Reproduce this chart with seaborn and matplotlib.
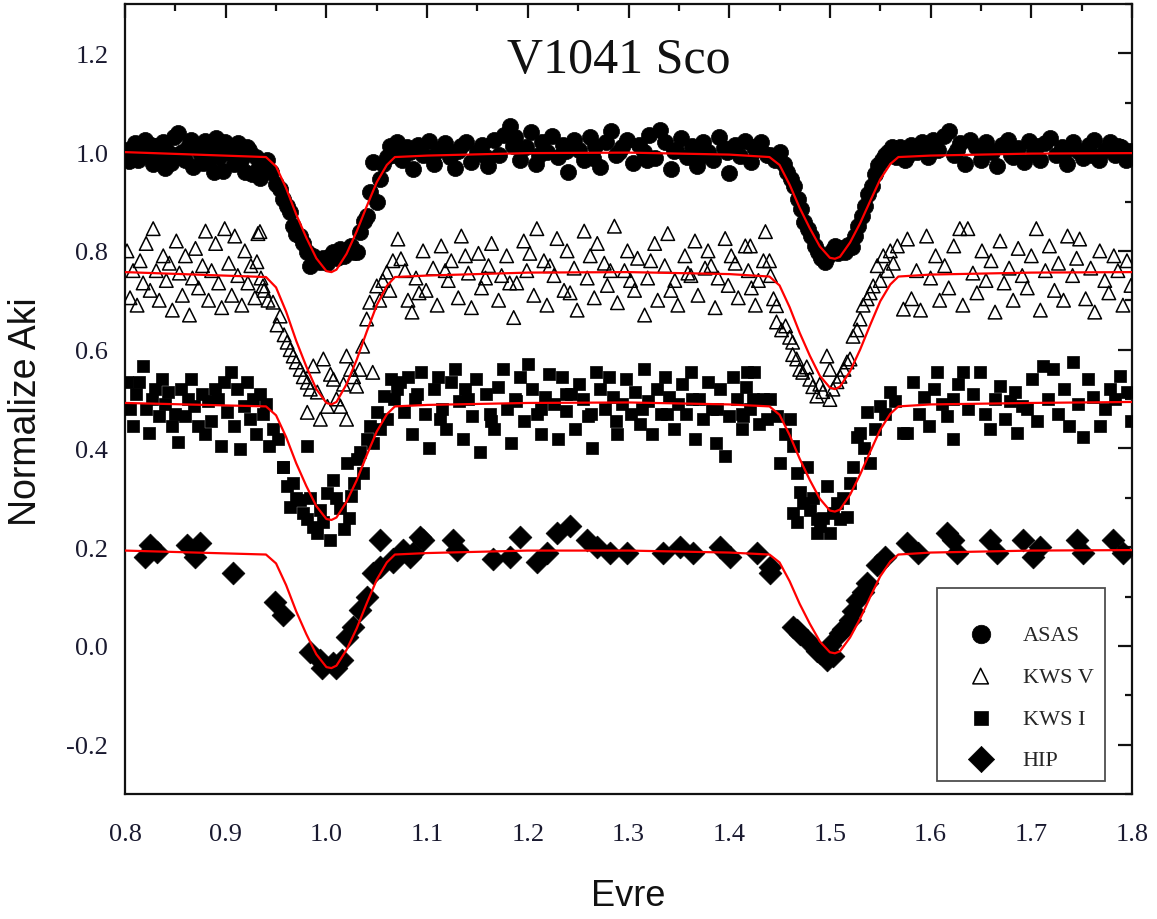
import matplotlib
matplotlib.use("Agg")
import matplotlib.pyplot as plt
from matplotlib.ticker import MultipleLocator, FormatStrFormatter
import seaborn as sns
import pandas as pd

# ---------------- data ----------------
asas_phase = [
    0.802, 0.806, 0.810, 0.813, 0.817, 0.820, 0.824, 0.828, 0.831, 0.835,
    0.838, 0.842, 0.846, 0.849, 0.853, 0.857, 0.860, 0.864, 0.868, 0.871,
    0.875, 0.879, 0.882, 0.886, 0.890, 0.893, 0.897, 0.901, 0.904, 0.908,
    0.912, 0.915, 0.919, 0.923, 0.926, 0.930, 0.934, 0.937,
    0.804, 0.815, 0.826, 0.840, 0.851, 0.866, 0.877, 0.888, 0.899, 0.910, 0.921, 0.932,
    0.941, 0.945, 0.950, 0.954, 0.957, 0.961, 0.964, 0.967, 0.970, 0.974,
    0.977, 0.981, 0.984, 0.987, 0.991, 0.994, 0.997, 1.001, 1.004, 1.007,
    1.011, 1.014, 1.017, 1.020, 1.024, 1.027, 1.030, 1.033, 1.037, 1.040,
    1.043, 1.046, 1.050, 1.053, 1.056, 1.060, 1.063, 1.067,
    1.070, 1.075, 1.080, 1.086, 1.091, 1.096, 1.102, 1.107, 1.112, 1.118,
    1.123, 1.128, 1.134, 1.139, 1.144, 1.150, 1.155, 1.160, 1.166, 1.171,
    1.176, 1.182, 1.187, 1.192, 1.198, 1.203, 1.208, 1.214, 1.219, 1.224,
    1.230, 1.235, 1.240, 1.246, 1.251, 1.256, 1.262, 1.267, 1.272, 1.278,
    1.283, 1.288, 1.294, 1.299, 1.304, 1.310, 1.315, 1.320, 1.326, 1.331,
    1.336, 1.342, 1.347, 1.352, 1.358, 1.363, 1.368, 1.374, 1.379, 1.384,
    1.390, 1.395, 1.400, 1.406, 1.411, 1.416, 1.422, 1.427, 1.432, 1.438,
    1.083, 1.105, 1.131, 1.158, 1.185, 1.211, 1.238, 1.265, 1.291, 1.318, 1.345, 1.371, 1.398, 1.425,
    1.441, 1.445, 1.450, 1.454, 1.457, 1.461, 1.464, 1.468, 1.471, 1.474,
    1.478, 1.481, 1.485, 1.488, 1.491, 1.495, 1.498, 1.502, 1.505, 1.508,
    1.512, 1.515, 1.518, 1.522, 1.525, 1.528, 1.532, 1.535, 1.538, 1.542,
    1.545, 1.548, 1.552, 1.555, 1.558, 1.562, 1.566,
    1.570, 1.575, 1.581, 1.586, 1.591, 1.597, 1.602, 1.607, 1.613, 1.618,
    1.623, 1.629, 1.634, 1.639, 1.645, 1.650, 1.655, 1.661, 1.666, 1.671,
    1.677, 1.682, 1.687, 1.693, 1.698, 1.703, 1.709, 1.714, 1.719, 1.725,
    1.730, 1.735, 1.741, 1.746, 1.751, 1.757, 1.762, 1.767, 1.773, 1.778,
    1.783, 1.789, 1.794, 1.798,
    1.578, 1.600, 1.626, 1.653, 1.680, 1.706, 1.733, 1.760, 1.786,
]
asas_flux = [
    1.005, 0.992, 1.018, 0.985, 1.010, 1.024, 0.998, 0.975, 1.012, 0.990,
    1.020, 1.003, 0.978, 1.030, 1.038, 1.000, 0.985, 1.015, 0.970, 1.008,
    0.995, 1.022, 0.983, 1.005, 1.028, 0.990, 0.962, 1.012, 0.998, 0.975,
    1.018, 0.985, 0.960, 1.005, 0.955, 0.990, 0.948, 0.975,
    0.982, 1.000, 1.015, 0.968, 0.995, 1.025, 0.978, 0.960, 1.020, 0.992, 1.010, 0.965,
    0.985, 0.960, 0.935, 0.925, 0.906, 0.890, 0.879, 0.851, 0.835, 0.830,
    0.815, 0.798, 0.770, 0.790, 0.780, 0.778, 0.785, 0.775, 0.790, 0.798,
    0.785, 0.804, 0.790, 0.798, 0.810, 0.798, 0.798, 0.839, 0.860, 0.871,
    0.920, 0.981, 0.899, 0.946, 0.975, 0.990, 1.013, 0.995,
    1.020, 0.985, 1.010, 0.965, 1.015, 0.995, 1.022, 0.975, 1.005, 1.018,
    0.990, 0.968, 1.012, 1.020, 0.980, 1.000, 1.015, 0.972, 1.025, 0.995,
    1.035, 1.052, 1.030, 0.985, 1.010, 1.040, 0.975, 1.020, 1.000, 1.032,
    0.990, 1.015, 0.960, 1.025, 1.005, 0.985, 1.030, 1.012, 0.970, 1.020,
    1.042, 0.995, 1.010, 1.025, 0.978, 1.015, 1.000, 1.035, 0.988, 1.044,
    1.020, 0.965, 1.005, 1.028, 0.990, 1.012, 0.972, 1.020, 1.000, 0.985,
    1.030, 1.008, 0.958, 1.015, 0.992, 1.022, 0.980, 1.005, 1.020, 0.995,
    1.000, 0.990, 1.002, 0.990, 1.012, 0.995, 1.002, 0.988, 1.000, 0.985, 1.002, 0.990, 1.000, 1.010,
    0.995, 0.985, 1.001, 0.975, 0.960, 0.945, 0.932, 0.905, 0.885, 0.859,
    0.845, 0.830, 0.810, 0.798, 0.785, 0.778, 0.790, 0.800, 0.810, 0.795,
    0.805, 0.798, 0.812, 0.808, 0.830, 0.851, 0.870, 0.891, 0.915, 0.932,
    0.955, 0.973, 0.985, 0.995, 1.001, 1.010, 0.990,
    1.010, 0.985, 1.015, 1.000, 1.021, 0.990, 1.025, 1.005, 1.033, 1.042,
    0.995, 1.018, 0.975, 1.025, 1.010, 0.985, 1.020, 1.000, 0.972, 1.015,
    1.025, 0.990, 1.008, 0.980, 1.022, 1.000, 0.985, 1.018, 1.028, 0.995,
    1.010, 0.975, 1.020, 1.002, 0.988, 1.015, 1.025, 0.985, 1.005, 1.020,
    0.995, 1.010, 0.985, 1.002,
    0.995, 1.012, 1.005, 1.000, 0.995, 1.012, 1.002, 0.995, 1.012,
]

kwsv_phase = [
    0.802, 0.805, 0.808, 0.812, 0.815, 0.818, 0.821, 0.825, 0.828, 0.831,
    0.834, 0.838, 0.841, 0.844, 0.847, 0.851, 0.854, 0.857, 0.860, 0.864,
    0.867, 0.870, 0.873, 0.877, 0.880, 0.883, 0.886, 0.890, 0.893, 0.896,
    0.899, 0.903, 0.906, 0.909, 0.912, 0.916, 0.919, 0.922, 0.925, 0.929,
    0.932, 0.935, 0.938,
    0.934, 0.931, 0.937, 0.942, 0.947, 0.951, 0.954, 0.958, 0.961, 0.964,
    0.967, 0.970, 0.974, 0.977, 0.981, 0.981, 0.984, 0.987, 0.991, 0.994,
    0.997, 1.001, 1.004, 1.007, 1.010, 1.014, 1.017, 1.020, 1.020, 1.024,
    1.027, 1.030, 1.033, 1.036, 1.040, 1.043, 1.046, 1.050, 1.053, 1.056,
    1.060, 1.063, 1.066,
    1.071, 1.074, 1.081, 1.085, 1.089, 1.096, 1.099, 1.106, 1.110, 1.114,
    1.121, 1.124, 1.131, 1.134, 1.141, 1.144, 1.151, 1.154, 1.161, 1.164,
    1.171, 1.174, 1.179, 1.186, 1.189, 1.196, 1.199, 1.206, 1.209, 1.216,
    1.219, 1.226, 1.229, 1.236, 1.239, 1.246, 1.249, 1.256, 1.259, 1.266,
    1.269, 1.276, 1.279, 1.286, 1.289, 1.296, 1.299, 1.306, 1.309, 1.316,
    1.319, 1.326, 1.329, 1.336, 1.339, 1.346, 1.349, 1.356, 1.359, 1.366,
    1.369, 1.376, 1.379, 1.386, 1.389, 1.396, 1.399, 1.406, 1.409, 1.416,
    1.419, 1.426, 1.429, 1.436, 1.440,
    1.078, 1.092, 1.118, 1.138, 1.158, 1.182, 1.202, 1.222, 1.242, 1.262,
    1.282, 1.302, 1.322, 1.342, 1.362, 1.382, 1.402, 1.422,
    1.421, 1.434, 1.441, 1.444, 1.447, 1.447, 1.452, 1.456, 1.460, 1.463,
    1.463, 1.467, 1.470, 1.473, 1.477, 1.480, 1.483, 1.487, 1.490, 1.493,
    1.497, 1.500, 1.500, 1.503, 1.507, 1.510, 1.514, 1.517, 1.520, 1.523,
    1.527, 1.530, 1.533, 1.537, 1.540, 1.543, 1.547, 1.550, 1.553, 1.557,
    1.560, 1.563, 1.567, 1.573,
    1.577, 1.581, 1.586, 1.590, 1.596, 1.600, 1.605, 1.609, 1.614, 1.618,
    1.623, 1.629, 1.632, 1.637, 1.642, 1.646, 1.651, 1.655, 1.660, 1.664,
    1.669, 1.673, 1.678, 1.682, 1.687, 1.691, 1.696, 1.700, 1.705, 1.709,
    1.714, 1.718, 1.723, 1.727, 1.732, 1.736, 1.741, 1.745, 1.748, 1.754,
    1.759, 1.763, 1.768, 1.773, 1.777, 1.782, 1.786, 1.791, 1.795, 1.799,
]
kwsv_flux = [
    0.800, 0.705, 0.760, 0.690, 0.780, 0.735, 0.815, 0.720, 0.845, 0.760,
    0.700, 0.790, 0.740, 0.775, 0.680, 0.820, 0.755, 0.710, 0.790, 0.670,
    0.745, 0.805, 0.725, 0.770, 0.840, 0.700, 0.760, 0.815, 0.735, 0.685,
    0.845, 0.775, 0.710, 0.830, 0.750, 0.690, 0.800, 0.735, 0.770, 0.705,
    0.835, 0.745, 0.720,
    0.839, 0.778, 0.729, 0.700, 0.696, 0.650, 0.668, 0.630, 0.615, 0.600,
    0.587, 0.575, 0.560, 0.545, 0.534, 0.473, 0.520, 0.567, 0.514, 0.459,
    0.581, 0.485, 0.550, 0.540, 0.500, 0.485, 0.530, 0.587, 0.459, 0.560,
    0.545, 0.526, 0.560, 0.607, 0.662, 0.696, 0.554, 0.729, 0.700, 0.740,
    0.757, 0.720, 0.780,
    0.824, 0.784, 0.700, 0.676, 0.745, 0.800, 0.720, 0.765, 0.690, 0.810,
    0.740, 0.780, 0.705, 0.830, 0.755, 0.685, 0.795, 0.725, 0.770, 0.815,
    0.700, 0.750, 0.790, 0.665, 0.735, 0.820, 0.760, 0.710, 0.845, 0.780,
    0.690, 0.750, 0.825, 0.720, 0.800, 0.765, 0.680, 0.840, 0.745, 0.705,
    0.815, 0.775, 0.730, 0.850, 0.695, 0.760, 0.800, 0.720, 0.785, 0.670,
    0.745, 0.815, 0.700, 0.770, 0.835, 0.740, 0.690, 0.790, 0.755, 0.820,
    0.710, 0.765, 0.800, 0.685, 0.745, 0.825, 0.730, 0.775, 0.705, 0.810,
    0.760, 0.690, 0.740, 0.839, 0.780,
    0.760, 0.715, 0.760, 0.790, 0.745, 0.735, 0.795, 0.770, 0.715, 0.790,
    0.760, 0.740, 0.780, 0.720, 0.750, 0.770, 0.790, 0.725,
    0.810, 0.780, 0.750, 0.703, 0.689, 0.656, 0.640, 0.648, 0.625, 0.615,
    0.590, 0.581, 0.560, 0.554, 0.565, 0.540, 0.525, 0.506, 0.530, 0.515,
    0.587, 0.499, 0.560, 0.520, 0.535, 0.546, 0.560, 0.575, 0.581, 0.627,
    0.640, 0.662, 0.690, 0.703, 0.715, 0.729, 0.770, 0.740, 0.790, 0.760,
    0.800, 0.775, 0.810, 0.682,
    0.824, 0.703, 0.760, 0.680, 0.830, 0.745, 0.790, 0.700, 0.770, 0.725,
    0.810, 0.845, 0.690, 0.845, 0.755, 0.715, 0.800, 0.740, 0.780, 0.676,
    0.820, 0.735, 0.765, 0.700, 0.805, 0.750, 0.725, 0.790, 0.845, 0.680,
    0.760, 0.810, 0.720, 0.775, 0.700, 0.830, 0.750, 0.785, 0.824, 0.703,
    0.765, 0.676, 0.800, 0.740, 0.715, 0.790, 0.760, 0.690, 0.780, 0.730,
]

kwsi_phase = [
    0.802, 0.805, 0.808, 0.811, 0.814, 0.818, 0.821, 0.824, 0.827, 0.830,
    0.834, 0.837, 0.840, 0.843, 0.847, 0.850, 0.853, 0.856, 0.860, 0.863,
    0.866, 0.869, 0.872, 0.876, 0.879, 0.882, 0.885, 0.889, 0.892, 0.895,
    0.898, 0.901, 0.905, 0.908, 0.911, 0.914, 0.918, 0.921, 0.924, 0.927,
    0.930, 0.934, 0.937, 0.940, 0.943,
    0.947, 0.952, 0.957, 0.961, 0.964, 0.967, 0.970, 0.974, 0.977, 0.981,
    0.984, 0.987, 0.991, 0.994, 0.997, 1.001, 1.004, 1.007, 1.010, 1.014,
    1.017, 1.020, 1.022, 1.024, 1.027, 1.030, 1.033, 1.036, 1.040, 1.043,
    1.046, 1.050, 1.053, 1.057, 1.060, 1.064, 1.067, 1.070,
    0.981, 0.957,
    1.073, 1.077, 1.081, 1.085, 1.090, 1.094, 1.098, 1.102, 1.107, 1.111,
    1.115, 1.119, 1.124, 1.128, 1.132, 1.136, 1.141, 1.145, 1.149, 1.153,
    1.158, 1.162, 1.166, 1.170, 1.175, 1.179, 1.183, 1.187, 1.192, 1.196,
    1.200, 1.204, 1.209, 1.213, 1.217, 1.221, 1.226, 1.230, 1.234, 1.238,
    1.243, 1.247, 1.251, 1.255, 1.260, 1.264, 1.268, 1.272, 1.277, 1.281,
    1.285, 1.289, 1.294, 1.298, 1.302, 1.306, 1.311, 1.315, 1.319, 1.323,
    1.328, 1.332, 1.336, 1.340, 1.345, 1.349, 1.353, 1.357, 1.362, 1.366,
    1.370, 1.374, 1.379, 1.383, 1.387, 1.391, 1.396, 1.400, 1.404, 1.408,
    1.413, 1.417, 1.421, 1.425, 1.430, 1.434, 1.438,
    1.088, 1.113, 1.138, 1.163, 1.188, 1.213, 1.238, 1.263, 1.288, 1.313,
    1.338, 1.363, 1.388, 1.413,
    1.414, 1.418, 1.424, 1.441, 1.447, 1.450, 1.455, 1.460, 1.463, 1.463,
    1.467, 1.467, 1.470, 1.473, 1.477, 1.480, 1.483, 1.487, 1.487, 1.490,
    1.493, 1.497, 1.500, 1.503, 1.507, 1.510, 1.513, 1.517, 1.520, 1.523,
    1.527, 1.530, 1.534, 1.537, 1.540, 1.545, 1.550, 1.555, 1.560, 1.565,
    1.573,
    1.577, 1.583, 1.588, 1.593, 1.598, 1.603, 1.606, 1.611, 1.616, 1.622,
    1.622, 1.627, 1.632, 1.637, 1.642, 1.649, 1.654, 1.659, 1.664, 1.669,
    1.674, 1.679, 1.684, 1.686, 1.691, 1.696, 1.701, 1.706, 1.712, 1.717,
    1.722, 1.727, 1.732, 1.737, 1.741, 1.746, 1.751, 1.756, 1.761, 1.768,
    1.773, 1.778, 1.783, 1.788, 1.795, 1.799,
]
kwsi_flux = [
    0.534, 0.479, 0.445, 0.510, 0.534, 0.567, 0.479, 0.432, 0.500, 0.520,
    0.465, 0.540, 0.490, 0.514, 0.445, 0.470, 0.412, 0.520, 0.465, 0.500,
    0.540, 0.485, 0.445, 0.510, 0.430, 0.495, 0.455, 0.520, 0.499, 0.405,
    0.534, 0.474, 0.554, 0.445, 0.520, 0.398, 0.485, 0.534, 0.460, 0.500,
    0.430, 0.510, 0.470, 0.490, 0.404,
    0.440, 0.420, 0.363, 0.323, 0.282, 0.330, 0.300, 0.296, 0.270, 0.256,
    0.300, 0.240, 0.229, 0.275, 0.250, 0.310, 0.215, 0.335, 0.300, 0.280,
    0.236, 0.371, 0.260, 0.303, 0.330, 0.378, 0.392, 0.351, 0.420, 0.445,
    0.410, 0.473, 0.440, 0.506, 0.460, 0.540, 0.500, 0.520,
    0.404, 0.363,
    0.534, 0.473, 0.545, 0.430, 0.510, 0.554, 0.470, 0.400, 0.520, 0.545,
    0.480, 0.440, 0.535, 0.560, 0.495, 0.420, 0.500, 0.465, 0.540, 0.392,
    0.510, 0.470, 0.440, 0.525, 0.560, 0.480, 0.410, 0.500, 0.545, 0.455,
    0.570, 0.520, 0.470, 0.430, 0.505, 0.550, 0.490, 0.420, 0.545, 0.475,
    0.510, 0.440, 0.530, 0.500, 0.465, 0.400, 0.555, 0.520, 0.480, 0.545,
    0.505, 0.430, 0.490, 0.540, 0.470, 0.515, 0.450, 0.560, 0.495, 0.430,
    0.520, 0.470, 0.545, 0.505, 0.440, 0.490, 0.530, 0.470, 0.555, 0.420,
    0.500, 0.460, 0.535, 0.480, 0.410, 0.520, 0.385, 0.465, 0.545, 0.500,
    0.440, 0.525, 0.480, 0.555, 0.450, 0.500, 0.460,
    0.500, 0.460, 0.520, 0.455, 0.495, 0.480, 0.510, 0.470, 0.455, 0.480,
    0.470, 0.500, 0.480, 0.470,
    0.465, 0.554, 0.499, 0.499, 0.465, 0.371, 0.430, 0.459, 0.404, 0.270,
    0.351, 0.250, 0.311, 0.290, 0.363, 0.275, 0.300, 0.256, 0.229, 0.242,
    0.260, 0.323, 0.229, 0.270, 0.290, 0.256, 0.300, 0.262, 0.330, 0.363,
    0.424, 0.432, 0.400, 0.473, 0.371, 0.440, 0.485, 0.470, 0.514, 0.495,
    0.432,
    0.432, 0.534, 0.470, 0.505, 0.445, 0.520, 0.554, 0.490, 0.465, 0.499,
    0.418, 0.530, 0.554, 0.480, 0.510, 0.554, 0.470, 0.440, 0.500, 0.526,
    0.460, 0.495, 0.515, 0.432, 0.485, 0.479, 0.540, 0.455, 0.567, 0.500,
    0.560, 0.470, 0.520, 0.445, 0.574, 0.490, 0.424, 0.540, 0.505, 0.445,
    0.480, 0.520, 0.500, 0.546, 0.514, 0.455,
]

hip_phase = [
    0.820, 0.825, 0.832, 0.862, 0.870, 0.874, 0.907, 0.949, 0.957, 0.984,
    0.994, 0.996, 1.007, 1.010, 1.015, 1.020, 1.026, 1.033, 1.040, 1.046,
    1.053, 1.053, 1.066, 1.066, 1.076, 1.083, 1.086, 1.093, 1.096, 1.126,
    1.130, 1.165, 1.182, 1.192, 1.209, 1.219, 1.229, 1.242, 1.259, 1.269,
    1.282, 1.299, 1.334, 1.351, 1.364, 1.391, 1.401, 1.428, 1.441, 1.441,
    1.463, 1.467, 1.477, 1.490, 1.497, 1.500, 1.510, 1.520, 1.527, 1.537,
    1.547, 1.555, 1.577, 1.587, 1.616, 1.622, 1.626, 1.659, 1.666, 1.692,
    1.702, 1.709, 1.745, 1.751, 1.781, 1.791,
    1.487, 1.503, 1.470, 1.513, 1.523, 1.533,
]
hip_flux = [
    0.179, 0.205, 0.191, 0.205, 0.181, 0.209, 0.148, 0.089, 0.063, -0.012,
    -0.028, -0.045, -0.035, -0.045, -0.028, 0.018, 0.039, 0.073, 0.099, 0.148,
    0.160, 0.215, 0.175, 0.169, 0.195, 0.181, 0.189, 0.221, 0.215, 0.215,
    0.195, 0.175, 0.181, 0.221, 0.169, 0.189, 0.229, 0.242, 0.215, 0.201,
    0.189, 0.189, 0.189, 0.201, 0.189, 0.201, 0.181, 0.189, 0.160, 0.148,
    0.039, 0.032, 0.012, -0.014, -0.028, 0.002, 0.026, 0.053, 0.093, 0.128,
    0.164, 0.181, 0.209, 0.189, 0.229, 0.215, 0.189, 0.215, 0.189, 0.215,
    0.181, 0.201, 0.215, 0.189, 0.215, 0.189,
    -0.010, -0.020, 0.025, 0.035, 0.070, 0.110,
]

# model (red) curves, read at these phases
fit_phase = [0.80, 0.94, 0.95, 0.96, 0.97, 0.98, 0.99, 1.00, 1.005, 1.01,
             1.02, 1.03, 1.04, 1.05, 1.06, 1.068, 1.10, 1.20, 1.30, 1.40,
             1.44, 1.45, 1.46, 1.47, 1.48, 1.49, 1.50, 1.505, 1.51, 1.52,
             1.53, 1.54, 1.55, 1.56, 1.568, 1.60, 1.70, 1.80]
fit_asas = [1.000, 0.990, 0.971, 0.927, 0.874, 0.827, 0.785, 0.759, 0.757, 0.762,
            0.794, 0.839, 0.890, 0.939, 0.974, 0.990, 0.993, 0.998, 0.999, 0.995,
            0.990, 0.974, 0.934, 0.887, 0.846, 0.809, 0.786, 0.784, 0.788, 0.817,
            0.856, 0.901, 0.945, 0.976, 0.990, 0.993, 0.997, 0.998]
fit_kwsv = [0.757, 0.747, 0.726, 0.677, 0.618, 0.566, 0.520, 0.492, 0.489, 0.494,
            0.530, 0.579, 0.636, 0.690, 0.729, 0.747, 0.750, 0.756, 0.757, 0.753,
            0.748, 0.730, 0.686, 0.634, 0.588, 0.547, 0.523, 0.520, 0.525, 0.556,
            0.600, 0.650, 0.698, 0.732, 0.748, 0.752, 0.756, 0.757]
fit_kwsi = [0.492, 0.485, 0.467, 0.423, 0.370, 0.324, 0.283, 0.257, 0.255, 0.260,
            0.292, 0.335, 0.386, 0.434, 0.469, 0.485, 0.488, 0.492, 0.493, 0.489,
            0.485, 0.468, 0.427, 0.379, 0.336, 0.298, 0.274, 0.272, 0.276, 0.306,
            0.347, 0.393, 0.438, 0.470, 0.485, 0.489, 0.492, 0.494]
fit_hip = [0.193, 0.185, 0.167, 0.123, 0.070, 0.024, -0.017, -0.043, -0.045, -0.040,
           -0.008, 0.035, 0.086, 0.134, 0.169, 0.185, 0.188, 0.193, 0.193, 0.189,
           0.185, 0.169, 0.131, 0.085, 0.045, 0.009, -0.013, -0.015, -0.011, 0.017,
           0.055, 0.099, 0.141, 0.171, 0.185, 0.189, 0.193, 0.194]

series_labels = ["ASAS", "KWS V", "KWS I", "HIP"]
title_text = "V1041 Sco"
x_label = "Evre"
y_label = "Normalize Aki"

# ---------------- figure ----------------
sns.set_style("white")
SERIF = ["Liberation Serif", "DejaVu Serif"]
SANS = ["Liberation Sans", "DejaVu Sans"]
plt.rcParams["font.family"] = SERIF
plt.rcParams["axes.unicode_minus"] = False

fig = plt.figure(figsize=(11.57, 9.2), dpi=100)
ax = fig.add_axes([125 / 1157, 125 / 920, 1007 / 1157, 790 / 920])

def frame(px, fx):
    assert len(px) == len(fx), (len(px), len(fx))
    return pd.DataFrame({"phase": px, "flux": fx})

sns.scatterplot(data=frame(asas_phase, asas_flux), x="phase", y="flux", ax=ax,
                marker="o", s=135, color="black", edgecolor="black", linewidth=0.5,
                label=series_labels[0], zorder=3)
sns.scatterplot(data=frame(kwsv_phase, kwsv_flux), x="phase", y="flux", ax=ax,
                marker="^", s=95, facecolor="none", edgecolor="black", linewidth=1.1,
                label=series_labels[1], zorder=3)
sns.scatterplot(data=frame(kwsi_phase, kwsi_flux), x="phase", y="flux", ax=ax,
                marker="s", s=72, color="black", edgecolor="black", linewidth=0.5,
                label=series_labels[2], zorder=3)
sns.scatterplot(data=frame(hip_phase, hip_flux), x="phase", y="flux", ax=ax,
                marker="D", s=135, color="black", edgecolor="black", linewidth=0.5,
                label=series_labels[3], zorder=3)

for fy in (fit_asas, fit_kwsv, fit_kwsi, fit_hip):
    sns.lineplot(data=frame(fit_phase, fy), x="phase", y="flux", ax=ax,
                 color="#ff0000", linewidth=1.6, sort=False, estimator=None,
                 legend=False, zorder=4)

ax.set_xlim(0.8, 1.8)
ax.set_ylim(-0.3, 1.3)
ax.xaxis.set_major_locator(MultipleLocator(0.1))
ax.xaxis.set_minor_locator(MultipleLocator(0.05))
ax.yaxis.set_major_locator(MultipleLocator(0.2))
ax.yaxis.set_minor_locator(MultipleLocator(0.1))
ax.xaxis.set_major_formatter(FormatStrFormatter("%.1f"))
ax.yaxis.set_major_formatter(FormatStrFormatter("%.1f"))
ax.tick_params(which="both", direction="in", top=True, right=True,
               color="#111111", width=1.6)
ax.tick_params(which="major", length=10, labelsize=19, labelcolor="#1a1a30")
ax.tick_params(axis="x", which="major", pad=21)
ax.tick_params(axis="y", which="major", pad=12)
ax.tick_params(which="minor", length=5)
for sp in ax.spines.values():
    sp.set_linewidth(1.6)
    sp.set_color("#111111")

ax.set_xlabel(x_label, family=SANS, fontsize=26, color="#111111")
ax.set_ylabel(y_label, family=SANS, fontsize=27, color="#111111")
ax.xaxis.set_label_coords(0.5, -0.106)
ax.yaxis.set_label_coords(-0.080, 0.485)
ax.text(0.49, 0.93, title_text, transform=ax.transAxes, ha="center", va="center",
        fontsize=36, family=SERIF, color="#111111")

leg = ax.legend(loc="lower right", bbox_to_anchor=(0.973, 0.016), frameon=True,
                fancybox=False, shadow=False, fontsize=16, markerscale=1.15,
                handlelength=2.9, handletextpad=0.45, borderpad=0.5,
                labelspacing=0.95, borderaxespad=0.0,
                title=" ", title_fontsize=3)
leg.get_frame().set_edgecolor("#222222")
leg.get_frame().set_linewidth(1.3)

fig.savefig("out.png", dpi=100)
